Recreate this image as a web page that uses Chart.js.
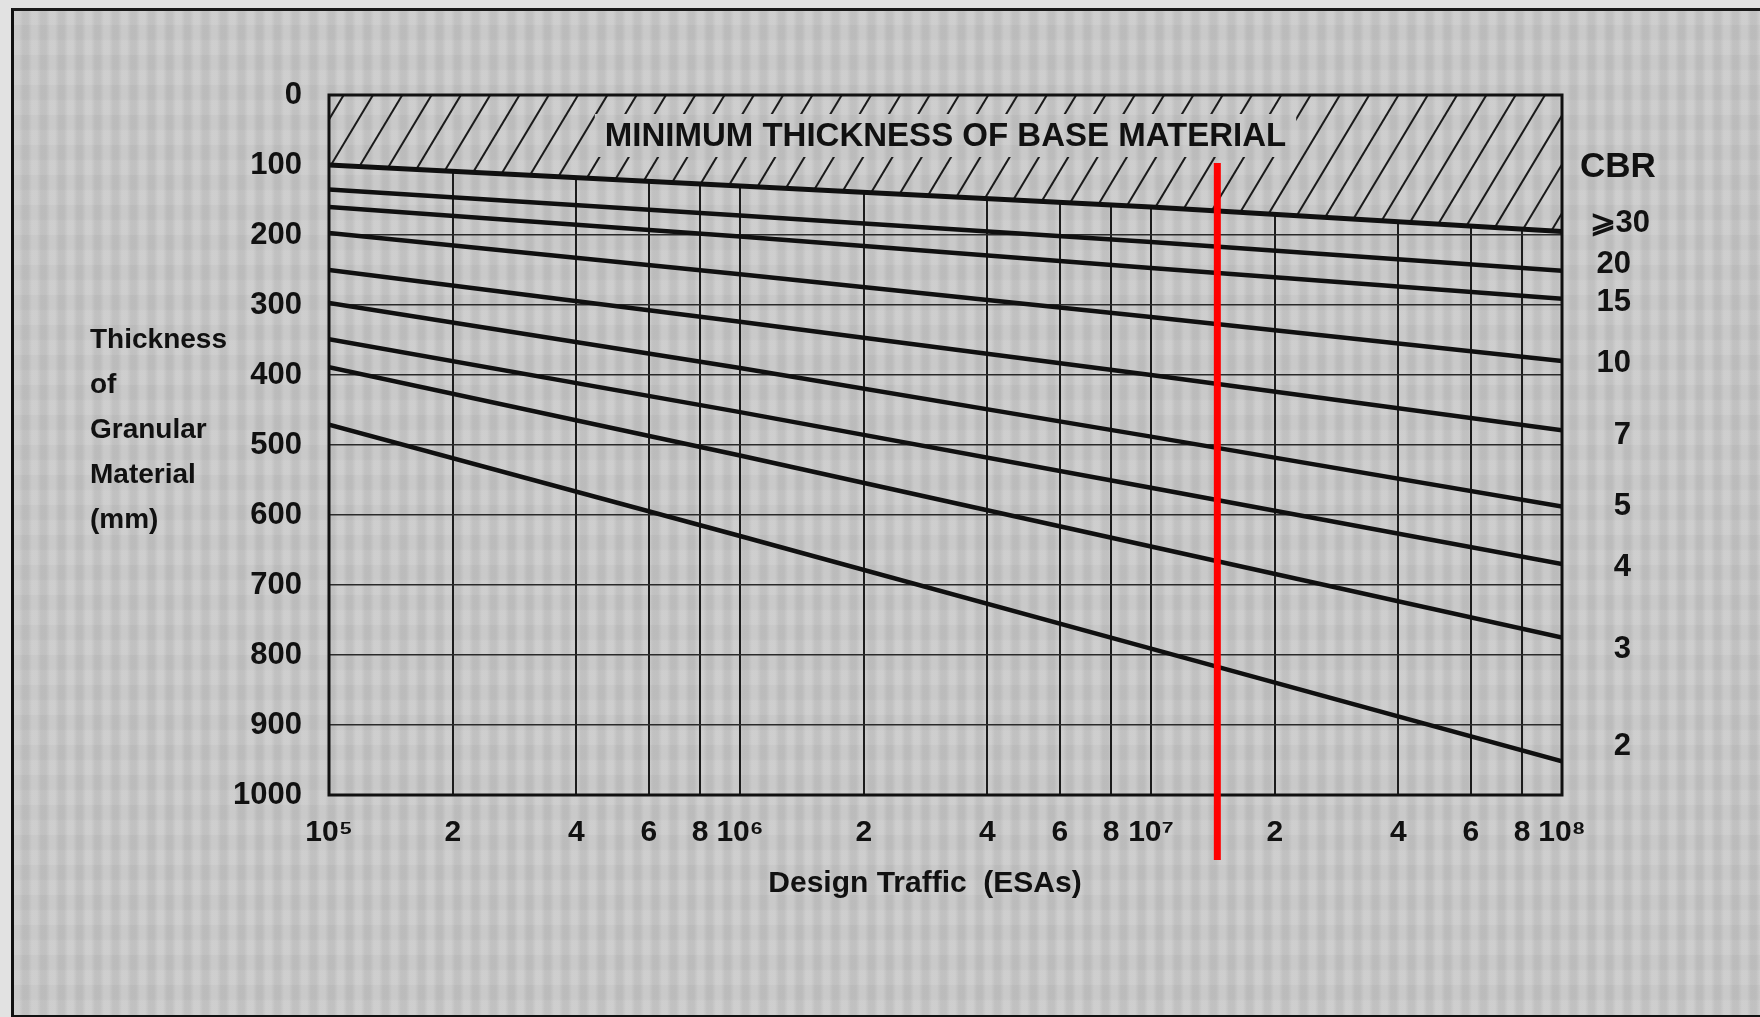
<!DOCTYPE html>
<html>
<head>
<meta charset="utf-8">
<script src="https://cdn.jsdelivr.net/npm/chart.js@4.4.1/dist/chart.umd.min.js"></script>
<style>
  html, body { margin: 0; padding: 0; background: #e2e2e2; }
  #wrap { position: relative; width: 1760px; height: 1017px; overflow: hidden; }
  #paper {
    position: absolute; left: 11px; top: 8px; width: 1760px; height: 1004px;
    border-left: 3px solid #111; border-top: 3px solid #1a1a1a; border-bottom: 3px solid #111;
    background-color: #c7c7c7;
    background-image:
      repeating-linear-gradient(90deg, rgba(255,255,255,0.10) 0 5px, rgba(0,0,0,0.04) 9px 14px, rgba(255,255,255,0.10) 18px),
      repeating-linear-gradient(0deg, rgba(255,255,255,0.03) 0 14px, rgba(0,0,0,0.02) 16px 30px);
  }
  canvas { position: absolute; left: 0; top: 0; }
</style>
</head>
<body>
<div id="wrap">
  <div id="paper"></div>
  <canvas id="chart" width="1760" height="1017"></canvas>
</div>
<script>
// Design traffic (ESAs) at each decade
const traffic = [1e5, 1e6, 1e7, 1e8];

// Thickness of granular material (mm) read at each decade, one array per CBR
const cbr30 = [100, 130, 160, 195];
const cbr20 = [135, 172, 210, 251];
const cbr15 = [160, 202, 247, 291];
const cbr10 = [197, 256, 317, 380];
const cbr7 = [250, 324, 400, 479];
const cbr5 = [297, 390, 488, 588];
const cbr4 = [349, 453, 561, 670];
const cbr3 = [389, 515, 645, 775];
const cbr2 = [471, 630, 791, 952];

const series = [cbr30, cbr20, cbr15, cbr10, cbr7, cbr5, cbr4, cbr3, cbr2];
const cbrLabels = ["⩾30", "20", "15", "10", "7", "5", "4", "3", "2"];

// Axis ticks
const xTicks = [1e5, 2e5, 4e5, 6e5, 8e5, 1e6, 2e6, 4e6, 6e6, 8e6, 1e7, 2e7, 4e7, 6e7, 8e7, 1e8];
const xTickLabels = ["10⁵", "2", "4", "6", "8", "10⁶", "2", "4", "6", "8", "10⁷", "2", "4", "6", "8", "10⁸"];
const yTicks = [0, 100, 200, 300, 400, 500, 600, 700, 800, 900, 1000];

// Red marker line (traffic, thickness from / to)
const markerTraffic = 1.45e7;
const markerRange = [97, 1093];

const FONT = '"Liberation Sans", Arial, sans-serif';
const INK = "#111";

const decor = {
  id: "decor",
  beforeDatasetsDraw(chart) {
    const { ctx, chartArea: a, scales } = chart;
    const x = scales.x, y = scales.y;

    // Hatched zone above the minimum thickness line
    ctx.save();
    ctx.beginPath();
    ctx.moveTo(a.left, a.top);
    ctx.lineTo(a.right, a.top);
    for (let i = traffic.length - 1; i >= 0; i--) {
      ctx.lineTo(x.getPixelForValue(traffic[i]), y.getPixelForValue(cbr30[i]));
    }
    ctx.closePath();
    ctx.clip();

    ctx.globalCompositeOperation = "destination-out";
    ctx.fillRect(a.left, a.top, a.width, a.height);
    ctx.globalCompositeOperation = "source-over";

    ctx.strokeStyle = "#1a1a1a";
    ctx.lineWidth = 2;
    const step = 29.3, h = 200, slant = 0.6;
    for (let xt = a.left + 14.7 - step * 6; xt < a.right + step * 6; xt += step) {
      ctx.beginPath();
      ctx.moveTo(xt, a.top);
      ctx.lineTo(xt - slant * h, a.top + h);
      ctx.stroke();
    }

    // Clear band and caption
    const caption = "MINIMUM THICKNESS OF BASE MATERIAL";
    ctx.font = "bold 33px " + FONT;
    const cx = (a.left + a.right) / 2, cy = a.top + 42;
    const w = ctx.measureText(caption).width;
    ctx.globalCompositeOperation = "destination-out";
    ctx.fillRect(cx - w / 2 - 10, cy - 23, w + 20, 43);
    ctx.globalCompositeOperation = "source-over";
    ctx.fillStyle = INK;
    ctx.textAlign = "center";
    ctx.textBaseline = "middle";
    ctx.fillText(caption, cx, cy);
    ctx.restore();

    // Plot frame
    ctx.save();
    ctx.strokeStyle = INK;
    ctx.lineWidth = 3;
    ctx.strokeRect(a.left, a.top, a.width, a.height);
    ctx.restore();
  },
  afterDraw(chart) {
    const { ctx, chartArea: a, scales } = chart;
    const y = scales.y;
    ctx.save();
    ctx.fillStyle = INK;
    ctx.textBaseline = "middle";

    // y title, horizontal lines
    ctx.font = "bold 28px " + FONT;
    ctx.textAlign = "left";
    ["Thickness", "of", "Granular", "Material", "(mm)"].forEach((t, i) => {
      ctx.fillText(t, 90, 340 + i * 45);
    });

    // x title
    ctx.font = "bold 30px " + FONT;
    ctx.textAlign = "center";
    ctx.fillText("Design Traffic  (ESAs)", 925, 884);

    // CBR labels at the right end of each line
    ctx.font = "bold 35px " + FONT;
    ctx.textAlign = "left";
    ctx.fillText("CBR", a.right + 18, a.top + 72);

    const dy = [-8, -6, 4, 2, 5, 0, 3, 12, -15];
    ctx.font = "bold 31px " + FONT;
    ctx.textAlign = "right";
    series.forEach((s, i) => {
      const py = y.getPixelForValue(s[s.length - 1]) + dy[i];
      const px = i === 0 ? a.right + 88 : a.right + 69;
      ctx.fillText(cbrLabels[i], px, py);
    });
    ctx.restore();
  },
};

const datasets = [
  {
    label: "marker",
    data: markerRange.map((v) => ({ x: markerTraffic, y: v })),
    borderColor: "#ff0000",
    borderWidth: 7,
    pointRadius: 0,
    clip: false,
  },
];
series.forEach((s, i) => {
  datasets.push({
    label: "CBR " + cbrLabels[i],
    data: traffic.map((t, j) => ({ x: t, y: s[j] })),
    borderColor: "#101010",
    borderWidth: i === 0 ? 5 : 4.5,
    pointRadius: 0,
  });
});

new Chart(document.getElementById("chart"), {
  type: "line",
  data: { datasets },
  plugins: [decor],
  options: {
    responsive: false,
    devicePixelRatio: 1,
    animation: false,
    layout: { padding: { top: 95, right: 198, left: 0, bottom: 0 } },
    plugins: { legend: { display: false }, tooltip: { enabled: false } },
    scales: {
      x: {
        type: "logarithmic",
        min: 1e5,
        max: 1e8,
        afterBuildTicks: (s) => {
          s.ticks = xTicks.map((v) => ({ value: v }));
        },
        afterFit: (s) => {
          s.height = 222;
        },
        ticks: {
          autoSkip: false,
          maxRotation: 0,
          padding: 20,
          color: INK,
          font: { family: FONT, size: 30, weight: "bold" },
          callback: (v, i) => xTickLabels[i],
        },
        grid: { color: "#1c1c1c", lineWidth: 2, drawTicks: false },
        border: { display: false },
      },
      y: {
        type: "linear",
        reverse: true,
        min: 0,
        max: 1000,
        afterBuildTicks: (s) => {
          s.ticks = yTicks.map((v) => ({ value: v }));
        },
        afterFit: (s) => {
          s.width = 329;
        },
        ticks: {
          padding: 27,
          color: INK,
          font: { family: FONT, size: 31, weight: "bold" },
          callback: (v) => String(v),
        },
        grid: { color: "#2a2a2a", lineWidth: 1.6, drawTicks: false },
        border: { display: false },
      },
    },
  },
});
</script>
</body>
</html>
